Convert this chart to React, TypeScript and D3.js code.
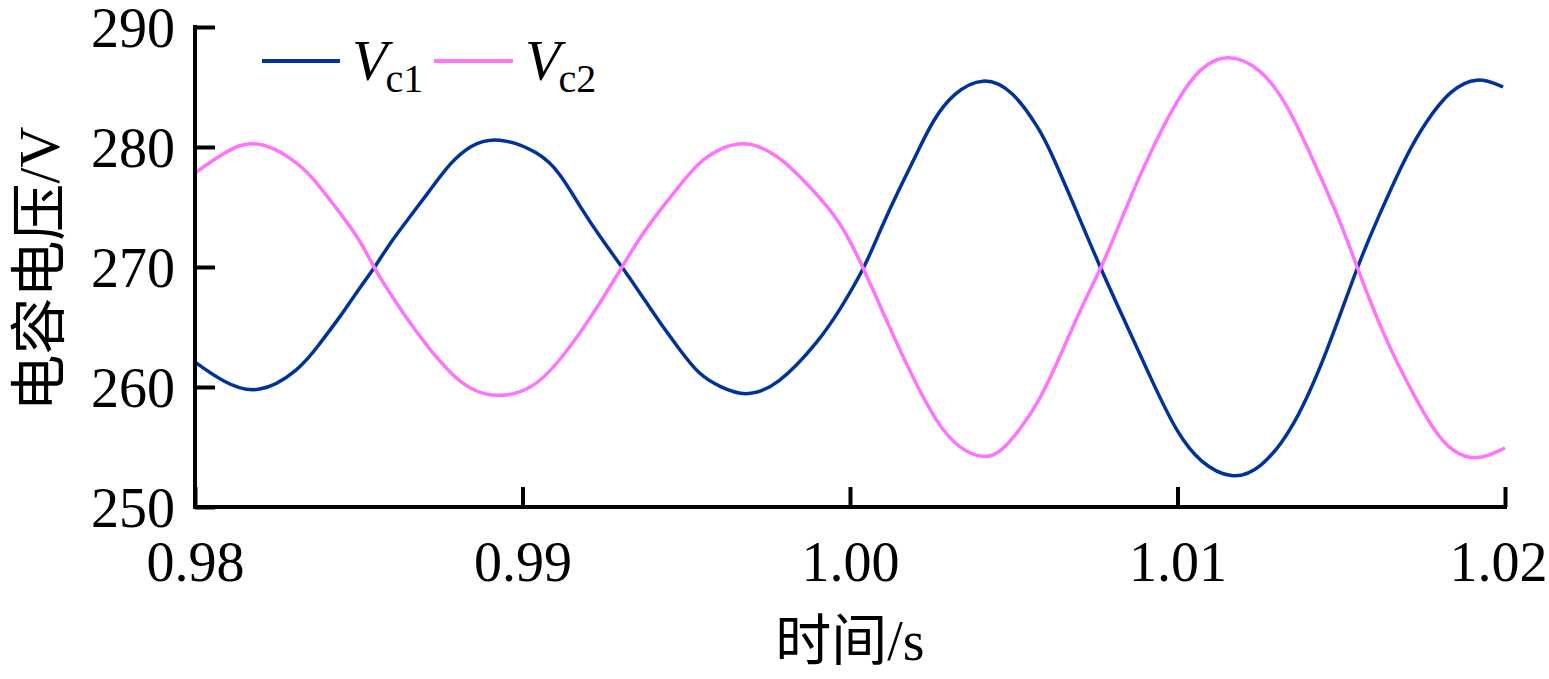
import React, { useEffect, useRef } from "react";
import * as d3 from "d3";

// Capacitor voltage waveforms, [time s, voltage V]
const vc1Points: [number, number][] = [
	[0.98, 262.08], [0.98085, 260.42], [0.98189, 259.25], [0.98321, 261.42],
	[0.98382, 263.67], [0.98443, 265.83], [0.98504, 268.33], [0.98544, 269.75],
	[0.98595, 272.0], [0.98656, 274.17], [0.98718, 276.42], [0.98779, 278.67],
	[0.9884, 280.17], [0.98922, 280.92], [0.99053, 279.58], [0.99115, 277.83],
	[0.99176, 275.0], [0.99237, 272.5], [0.99304, 270.0], [0.99359, 267.83],
	[0.9942, 265.33], [0.99481, 263.08], [0.99539, 261.0], [0.99603, 260.0],
	[0.99679, 259.17], [0.99777, 260.0], [0.99908, 263.92], [0.99969, 266.42],
	[1.00046, 270.0], [1.00092, 273.08], [1.00153, 276.67], [1.00205, 279.5],
	[1.00253, 282.25], [1.00315, 284.5], [1.00406, 285.92], [1.00498, 284.75],
	[1.0058, 281.42], [1.00611, 279.75], [1.00693, 274.58], [1.00763, 270.0],
	[1.00846, 265.08], [1.00925, 260.33], [1.00998, 256.17], [1.01069, 253.67],
	[1.01166, 252.25], [1.01252, 253.08], [1.01353, 256.42], [1.01456, 262.83],
	[1.01548, 270.0], [1.01609, 273.92], [1.01701, 279.5], [1.01762, 282.25],
	[1.01832, 284.75], [1.01915, 285.92], [1.01994, 285.0],
];

const vc2Points: [number, number][] = [
	[0.98, 277.83], [0.98085, 279.5], [0.98183, 280.83], [0.98321, 278.67],
	[0.98382, 276.67], [0.98443, 274.5], [0.98504, 272.25], [0.9855, 269.75],
	[0.98595, 267.83], [0.98656, 265.33], [0.98718, 263.08], [0.98779, 261.17],
	[0.9884, 259.75], [0.98922, 259.08], [0.99032, 259.75], [0.99115, 262.25],
	[0.99176, 264.5], [0.99237, 267.0], [0.99304, 270.0], [0.99359, 272.5],
	[0.9942, 274.75], [0.99481, 276.83], [0.99539, 278.75], [0.99594, 279.75],
	[0.99673, 280.58], [0.99777, 279.5], [0.99878, 276.67], [0.99969, 273.92],
	[1.0004, 270.0], [1.00113, 265.42], [1.00192, 260.75], [1.00266, 256.92],
	[1.00336, 254.75], [1.00412, 254.0], [1.00458, 254.5], [1.00519, 256.42],
	[1.0058, 258.92], [1.00641, 262.5], [1.00702, 266.42], [1.00769, 270.0],
	[1.00824, 273.67], [1.00879, 277.25], [1.00925, 280.0], [1.00998, 283.92],
	[1.01069, 286.67], [1.01151, 287.83], [1.01252, 286.67], [1.01334, 283.67],
	[1.01414, 278.92], [1.01496, 273.92], [1.01548, 270.0], [1.01618, 265.0],
	[1.01701, 260.33], [1.0178, 256.42], [1.01841, 254.5], [1.01918, 253.83],
	[1.02, 254.92],
];

const xTicks = [0.98, 0.99, 1.0, 1.01, 1.02];
const yTicks = [250, 260, 270, 280, 290];

const series = [
	{ name: "c1", points: vc1Points, color: "#003399" },
	{ name: "c2", points: vc2Points, color: "#ff73ff" },
];

const WIDTH = 1549;
const HEIGHT = 679;
const margin = { top: 27, right: 44, bottom: 172, left: 195 };
const FONT = "'Liberation Serif', 'Times New Roman', 'Noto Sans CJK SC', serif";

const App: React.FC = () => {
	const svgRef = useRef<SVGSVGElement | null>(null);

	useEffect(() => {
		const svgEl = svgRef.current;
		if (!svgEl) return;
		const svg = d3.select(svgEl);
		svg.selectAll("*").remove();

		const innerW = WIDTH - margin.left - margin.right;
		const innerH = HEIGHT - margin.top - margin.bottom;

		const x = d3.scaleLinear().domain([0.98, 1.02]).range([0, innerW]);
		const y = d3.scaleLinear().domain([250, 290]).range([innerH, 0]);

		const g = svg
			.append("g")
			.attr("transform", `translate(${margin.left},${margin.top})`);

		// Curves (B-spline smooths out reading jitter)
		const line = d3
			.line<[number, number]>()
			.x((d) => x(d[0]))
			.y((d) => y(d[1]))
			.curve(d3.curveBasis);

		series.forEach((s) => {
			g.append("path")
				.datum(s.points)
				.attr("fill", "none")
				.attr("stroke", s.color)
				.attr("stroke-width", 3.5)
				.attr("d", line);
		});

		// Axes (ticks point inward)
		const xAxis = g
			.append("g")
			.attr("transform", `translate(0,${innerH})`)
			.call(
				d3
					.axisBottom(x)
					.tickValues(xTicks)
					.tickSizeInner(-20)
					.tickSizeOuter(0)
					.tickPadding(34)
					.tickFormat(d3.format(".2f"))
			);

		const yAxis = g.append("g").call(
			d3
				.axisLeft(y)
				.tickValues(yTicks)
				.tickSizeInner(-20)
				.tickSizeOuter(0)
				.tickPadding(20)
				.tickFormat(d3.format("d"))
		);

		[xAxis, yAxis].forEach((ax) => {
			ax.select(".domain").remove();
			ax.selectAll(".tick line")
				.attr("stroke", "#000")
				.attr("stroke-width", 4);
			ax.selectAll(".tick text")
				.attr("fill", "#000")
				.style("font-family", FONT)
				.style("font-size", "56px");
		});
		xAxis.selectAll(".tick text").attr("dy", "0.71em");
		// last label sits a little left so it stays on the page
		xAxis.selectAll<SVGTextElement, number>(".tick text")
			.filter((d) => d === xTicks[xTicks.length - 1])
			.attr("dx", -7);
		yAxis.selectAll(".tick text").attr("dy", "0.34em");

		// Frame: left and bottom spines
		g.append("path")
			.attr("d", `M0,0V${innerH}H${innerW}`)
			.attr("fill", "none")
			.attr("stroke", "#000")
			.attr("stroke-width", 4)
			.attr("stroke-linecap", "square");

		// Axis titles
		svg.append("text")
			.attr("x", margin.left + innerW / 2)
			.attr("y", 660)
			.attr("text-anchor", "middle")
			.style("font-family", FONT)
			.style("font-size", "56px")
			.text("时间/s");

		svg.append("text")
			.attr("transform", `translate(59,${margin.top + innerH / 2 + 2}) rotate(-90)`)
			.attr("text-anchor", "middle")
			.style("font-family", FONT)
			.style("font-size", "57px")
			.text("电容电压/V");

		// Legend
		const legendItems = [
			{ s: series[0], x0: 262, x1: 340, tx: 352 },
			{ s: series[1], x0: 434, x1: 513, tx: 525 },
		];
		legendItems.forEach((it) => {
			svg.append("line")
				.attr("x1", it.x0)
				.attr("x2", it.x1)
				.attr("y1", 61)
				.attr("y2", 61)
				.attr("stroke", it.s.color)
				.attr("stroke-width", 4);
			const t = svg
				.append("text")
				.attr("x", it.tx)
				.attr("y", 80)
				.style("font-family", FONT)
				.style("font-size", "58px");
			t.append("tspan").style("font-style", "italic").text("V");
			t.append("tspan")
				.attr("dy", 12)
				.attr("dx", -2)
				.style("font-size", "40px")
				.text(it.s.name);
		});
	}, []);

	return (
		<svg
			ref={svgRef}
			width={WIDTH}
			height={HEIGHT}
			style={{ position: "absolute", left: 0, top: 0, background: "#fff" }}
		/>
	);
};

export default App;
